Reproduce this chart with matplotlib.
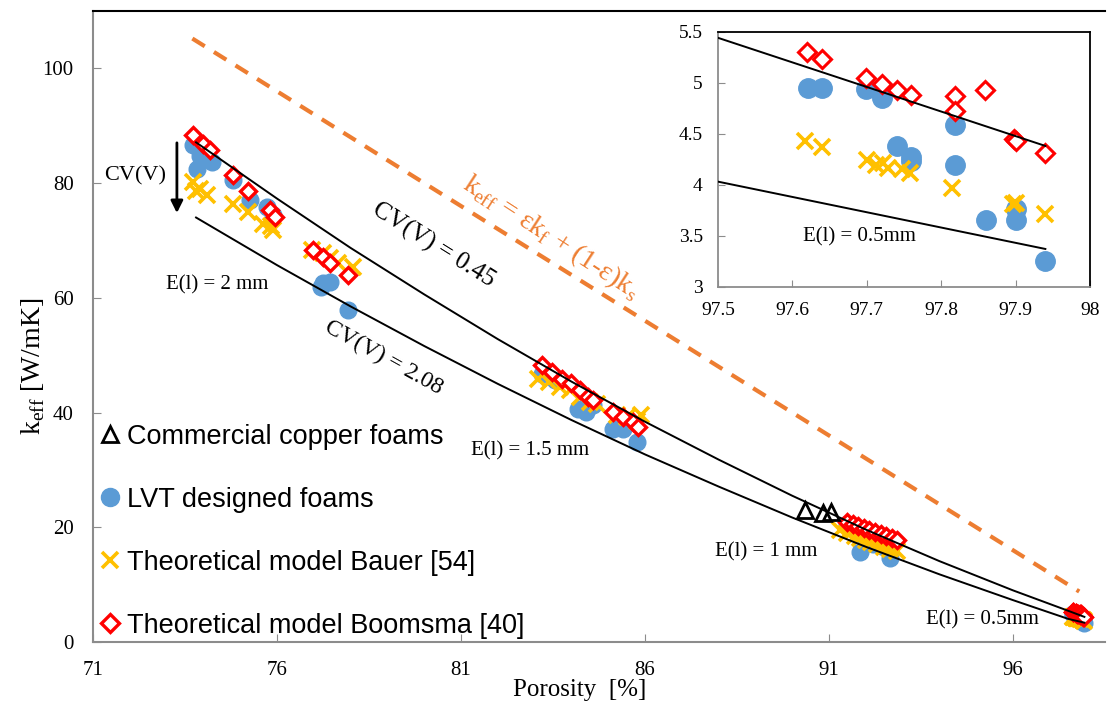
import numpy as np
import matplotlib.pyplot as plt
from matplotlib.lines import Line2D

# -------------------------------------------------------------------
# DATA
# -------------------------------------------------------------------
# commercial copper foams
com_x = [90.35, 90.85, 91.05]
com_y = [23.0, 22.5, 22.6]

# LVT designed foams (low porosity part)
lvt_x = [73.73, 73.9, 74.23, 73.82, 74.81, 75.27, 75.72, 75.9, 77.26, 77.44, 77.2, 77.94,
         83.2, 83.55, 84.19, 84.4, 84.6, 85.14, 85.41, 85.77,
         91.5, 91.7, 92.0, 92.2, 92.5, 91.84, 92.66]
lvt_y = [86.6, 84.8, 83.7, 82.5, 80.5, 77.0, 75.8, 74.4, 62.5, 62.8, 61.9, 57.8,
         46.8, 45.6, 40.7, 40.1, 41.3, 37.2, 37.2, 34.9,
         20.5, 19.5, 17.5, 17.0, 16.5, 15.7, 14.6]

# Bauer model
bau_x = [73.73, 73.91, 74.09, 73.8, 74.81, 75.22, 75.63, 75.9, 75.85, 76.94, 77.26, 77.44, 77.67, 78.07,
         83.1, 83.4, 83.7, 83.96, 84.23, 84.5, 84.7, 85.23, 85.5, 85.77, 85.9,
         91.3, 91.5, 91.7, 91.85, 92.0, 92.15, 92.3, 92.5, 92.65, 92.85]
bau_y = [80.2, 79.0, 77.9, 78.6, 76.4, 75.0, 72.9, 71.8, 72.6, 68.3, 67.8, 67.0, 66.0, 65.4,
         45.9, 45.3, 44.5, 43.9, 42.7, 41.8, 41.5, 39.5, 39.2, 38.6, 39.5,
         19.5, 19.0, 18.5, 18.1, 17.8, 17.4, 17.0, 16.6, 16.2, 15.8]

# Boomsma model
boo_x = [73.73, 74.0, 74.18, 74.81, 75.22, 75.81, 75.95, 76.99, 77.26, 77.44, 77.94,
         83.19, 83.46, 83.74, 84.0, 84.23, 84.46, 84.6, 85.14, 85.41, 85.68, 85.82,
         91.5, 91.65, 91.8, 91.95, 92.1, 92.25, 92.4, 92.55, 92.7, 92.85]
boo_y = [88.3, 86.9, 85.7, 81.4, 78.7, 75.3, 74.1, 68.3, 67.1, 66.0, 63.9,
         48.3, 47.1, 45.9, 45.1, 43.9, 42.7, 42.2, 40.1, 39.3, 38.4, 37.5,
         21.0, 20.6, 20.2, 19.8, 19.5, 19.1, 18.8, 18.4, 18.1, 17.8]

# high porosity foams (E(l) = 0.5 mm) - shown in main plot and inset
hp_lvt_x = [97.621, 97.64, 97.699, 97.72, 97.74, 97.759, 97.76, 97.818, 97.818, 97.86, 97.9, 97.9, 97.939]
hp_lvt_y = [4.95, 4.95, 4.94, 4.85, 4.38, 4.27, 4.23, 4.59, 4.19, 3.65, 3.76, 3.65, 3.25]
hp_bau_x = [97.617, 97.64, 97.70, 97.713, 97.722, 97.729, 97.747, 97.758, 97.815, 97.897, 97.901, 97.939]
hp_bau_y = [4.43, 4.37, 4.24, 4.19, 4.21, 4.16, 4.15, 4.11, 3.97, 3.81, 3.82, 3.71]
hp_boo_x = [97.619, 97.64, 97.699, 97.721, 97.74, 97.76, 97.818, 97.818, 97.859, 97.898, 97.9, 97.939]
hp_boo_y = [5.30, 5.23, 5.05, 4.99, 4.93, 4.88, 4.87, 4.72, 4.93, 4.45, 4.43, 4.31]

# CV(V) = 0.45 and CV(V) = 2.08 curves
cv_x = [73.8, 76, 78, 80, 82, 84, 86, 88, 90, 92, 94, 96, 97.5, 97.94]
cv045_y = [87.1, 77.3, 68.7, 60.6, 52.8, 45.4, 38.4, 31.8, 25.5, 19.6, 14.1, 9.0, 5.44, 4.38]
cv208_y = [74.0, 65.7, 58.5, 51.6, 45.0, 38.7, 32.7, 27.1, 21.7, 16.6, 11.8, 7.3, 4.03, 3.37]

# parallel model (rule of mixtures)
par_x = [73.7, 97.8]
par_y = [105.2, 8.8]

BLUE = "#5B9BD5"
YELLOW = "#FFC000"
RED = "#FF0000"
ORANGE = "#ED7D31"
GREY = "#8C8C8C"
SERIF = "Liberation Serif"
SANS = "Liberation Sans"

# -------------------------------------------------------------------
# PLOT
# -------------------------------------------------------------------
fig = plt.figure(figsize=(11.08, 7.08), dpi=100)
ax = fig.add_axes([93 / 1108, 1 - 642 / 708, 1012 / 1108, 631 / 708])

ax.plot(par_x, par_y, color=ORANGE, lw=3, ls=(0, (3.5, 2.6)), zorder=1)
ax.plot(cv_x, cv045_y, color="black", lw=1.4, zorder=4)
ax.plot(cv_x, cv208_y, color="black", lw=1.4, zorder=4)

ax.plot(lvt_x + hp_lvt_x, lvt_y + hp_lvt_y, ls="none", marker="o", ms=12,
        mfc=BLUE, mec=BLUE, zorder=2)
ax.plot(bau_x + hp_bau_x, bau_y + hp_bau_y, ls="none", marker="x", ms=11,
        mew=2.6, color=YELLOW, zorder=3)
ax.plot(boo_x + hp_boo_x, boo_y + hp_boo_y, ls="none", marker="D", ms=8.5,
        mew=2.4, mfc="white", mec=RED, zorder=3)
ax.plot(com_x, com_y, ls="none", marker="^", ms=11, mew=2, mfc="none",
        mec="black", zorder=5)

ax.set_xlim(71, 98.5)
ax.set_ylim(0, 110)
ax.set_xticks([71, 76, 81, 86, 91, 96])
ax.set_yticks([0, 20, 40, 60, 80, 100])
ax.tick_params(direction="in", length=6, color=GREY, labelsize=15, pad=14)
for lab in ax.get_xticklabels() + ax.get_yticklabels():
    lab.set_family(SERIF)
ax.spines["right"].set_visible(False)
ax.spines["top"].set_color("black")
ax.spines["left"].set_color(GREY)
ax.spines["bottom"].set_color(GREY)
for s in ax.spines.values():
    s.set_linewidth(1.5)

fig.text(580 / 1108, 1 - 690 / 708, "Porosity  [%]", family=SERIF, fontsize=18,
         ha="center", va="center")
fig.text(33 / 1108, 1 - 366 / 708, r"k$_{\mathregular{eff}}$ [W/mK]", family=SERIF,
         fontsize=20, rotation=90, ha="center", va="center")

# annotations
ax.annotate("", xy=(73.28, 74.3), xytext=(73.28, 87.5),
            arrowprops=dict(arrowstyle="-|>", color="black", lw=2, mutation_scale=18))
ax.text(72.15, 81.3, "CV(V)", family=SERIF, fontsize=16, ha="center", va="center")
ax.text(74.37, 62.2, "E(l) = 2 mm", family=SERIF, fontsize=15, ha="center", va="center")
ax.text(82.88, 33.4, "E(l) = 1.5 mm", family=SERIF, fontsize=15, ha="center", va="center")
ax.text(89.3, 15.7, "E(l) = 1 mm", family=SERIF, fontsize=15, ha="center", va="center")
ax.text(95.16, 3.8, "E(l) = 0.5mm", family=SERIF, fontsize=15, ha="center", va="center")
ax.text(80.24, 69.2, "CV(V) = 0.45", family=SERIF, fontsize=18, rotation=-32,
        ha="center", va="center", rotation_mode="anchor")
ax.text(78.9, 49.6, "CV(V) = 2.08", family=SERIF, fontsize=17, rotation=-29,
        ha="center", va="center", rotation_mode="anchor")
ax.text(83.45, 70.6,
        r"k$_{\mathregular{eff}}$ = εk$_{\mathregular{f}}$ + (1-ε)k$_{\mathregular{s}}$",
        family=SERIF, fontsize=20, color=ORANGE, rotation=-33,
        ha="center", va="center", rotation_mode="anchor")

# legend
handles = [
    Line2D([], [], ls="none", marker="^", ms=11, mew=2, mfc="none", mec="black"),
    Line2D([], [], ls="none", marker="o", ms=13, mfc=BLUE, mec=BLUE),
    Line2D([], [], ls="none", marker="x", ms=11, mew=2.6, color=YELLOW),
    Line2D([], [], ls="none", marker="D", ms=9, mew=2.4, mfc="white", mec=RED),
]
labels = ["Commercial copper foams", "LVT designed foams",
          "Theoretical model Bauer [54]", "Theoretical model Boomsma [40]"]
ax.legend(handles, labels, loc="upper left", bbox_to_anchor=(88 / 1108, 1 - 410 / 708),
          bbox_transform=fig.transFigure, frameon=False, handlelength=0.6,
          handletextpad=0.35, labelspacing=1.37, borderpad=0,
          prop={"family": SANS, "size": 19.5})

# inset
axi = fig.add_axes([718 / 1108, 1 - 286.7 / 708, 372 / 1108, 255 / 708])
axi.plot(cv_x, cv045_y, color="black", lw=1.4, zorder=4)
axi.plot(cv_x, cv208_y, color="black", lw=1.4, zorder=4)
axi.plot(hp_lvt_x, hp_lvt_y, ls="none", marker="o", ms=14, mfc=BLUE, mec=BLUE, zorder=2)
axi.plot(hp_bau_x, hp_bau_y, ls="none", marker="x", ms=12, mew=2.6, color=YELLOW, zorder=3)
axi.plot(hp_boo_x, hp_boo_y, ls="none", marker="D", ms=9.5, mew=2.2, mfc="white",
         mec=RED, zorder=3)
axi.set_xlim(97.5, 98)
axi.set_ylim(3, 5.5)
axi.set_xticks([97.5, 97.6, 97.7, 97.8, 97.9, 98])
axi.set_xticklabels(["97.5", "97.6", "97.7", "97.8", "97.9", "98"])
axi.set_yticks([3, 3.5, 4, 4.5, 5, 5.5])
axi.set_yticklabels(["3", "3.5", "4", "4.5", "5", "5.5"])
axi.tick_params(direction="in", length=5, color=GREY, labelsize=14)
axi.tick_params(axis="x", pad=11)
axi.tick_params(axis="y", pad=11)
for lab in axi.get_xticklabels() + axi.get_yticklabels():
    lab.set_family(SERIF)
axi.spines["top"].set_color("black")
axi.spines["right"].set_color("black")
axi.spines["left"].set_color(GREY)
axi.spines["bottom"].set_color(GREY)
for s in axi.spines.values():
    s.set_linewidth(1.3)
axi.text(97.69, 3.49, "E(l) = 0.5mm", family=SERIF, fontsize=15, ha="center", va="center")

fig.savefig("out.png", dpi=100)
